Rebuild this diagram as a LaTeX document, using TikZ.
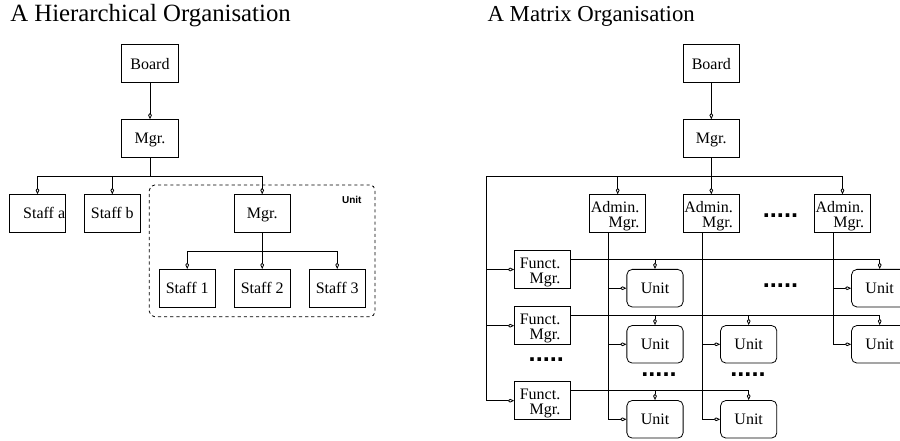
\documentclass[tikz,border=0pt]{standalone}
\usepackage{fontspec}
\setmainfont{Liberation Serif}
\setsansfont{Liberation Sans}
\usetikzlibrary{calc}
\usetikzlibrary{arrows.meta}
\usetikzlibrary{fit}

\tikzset{
  box/.style={draw, line width=.6pt, minimum width=42.2pt, minimum height=28.2pt, inner sep=0pt,
    text height=8pt, text depth=0pt, font=\fontsize{12}{10}\selectfont},
  twobox/.style={box, text height=12pt, text depth=13.2pt},
  unitbox/.style={box, rounded corners=4pt},
  link/.style={-{Kite[open, length=4.8pt, width=2.8pt, inset=1.7pt]}, line width=.6pt},
  heading/.style={anchor=base west, inner sep=0pt},
  etc/.style={anchor=base, inner sep=0pt, font=\sffamily\bfseries\fontsize{19}{19}\selectfont}
}
\newcommand{\mgrtext}[1]{\begin{tabular}[t]{@{}r@{\hspace{4pt}}}#1\\Mgr.\end{tabular}}

\begin{document}
\begin{tikzpicture}[x=.75pt, y=-.75pt]
\useasboundingbox (0,0) rectangle (900,441);
\clip (0,0) rectangle (900,441);

\node[heading, font=\fontsize{18.6}{21}\selectfont] (htitle) at (10,21.7) {A Hierarchical Organisation};
\node[heading, font=\fontsize{17.1}{20}\selectfont] (mtitle) at (487.3,21.7) {A Matrix Organisation};

\node[box] (lboard) at (150,63.7) {Board};
\node[box] (lmgr) at (150,138.5) {Mgr.};
\node[box] (sa) at (37.5,213.5) {\hspace*{10pt}Staff a};
\node[box] (sb) at (112.3,213.5) {Staff b};
\node[box] (umgr) at (262.2,213.5) {Mgr.};
\foreach \n/\x in {1/187.2, 2/262.2, 3/337.2}
  \node[box] (s\n) at (\x,288.2) {Staff \n};
\node[draw, line width=.6pt, dash pattern=on 2.4pt off 2.2pt, rounded corners=4pt,
  inner sep=7pt, fit=(umgr)(s1)(s3)] (unit) {};
\node[inner sep=0pt, font=\sffamily\bfseries\fontsize{7.5}{9}\selectfont] (unitlabel) at (351.8,200) {Unit};

\draw[link] (lboard) -- (lmgr);
\foreach \c in {sa, sb, umgr}
  \draw[link] (lmgr.south) -- ++(0,18.7) -| (\c.north);
\foreach \c in {s1, s2, s3}
  \draw[link] (umgr.south) -- ++(0,18.7) -| (\c.north);

\node[box] (rboard) at (711.3,63.7) {Board};
\node[box] (rmgr) at (711.3,138.5) {Mgr.};
\foreach \n/\x in {1/617.7, 2/711.3, 3/842.5}
  \node[twobox] (a\n) at (\x,213.5) {\mgrtext{Admin.}};
\foreach \n/\y in {1/269.5, 2/325.7, 3/400.7}
  \node[twobox] (f\n) at (542.7,\y) {\mgrtext{Funct.}};
\foreach \n/\x/\y in {11/655/288.2, 21/655/344.3, 31/655/419.3, 22/748.7/344.3, 32/748.7/419.3, 13/879.7/288.2, 23/879.7/344.3}
  \node[unitbox] (u\n) at (\x,\y) {Unit};
\coordinate (lbus) at (486.7,176);

\draw[link] (rboard) -- (rmgr);
\foreach \c in {a1, a2, a3}
  \draw[link] (rmgr.south) -- ++(0,18.7) -| (\c.north);
\foreach \c in {f1, f2, f3}
  \draw[link] (rmgr.south) -- ++(0,18.7) -| (\c.west -| lbus) -- (\c.west);

\foreach \u in {11, 13}
  \draw[link] ($(f1.north east)+(0,9.3)$) -| (u\u.north);
\foreach \u in {21, 22, 23}
  \draw[link] ($(f2.north east)+(0,9.3)$) -| (u\u.north);
\foreach \u in {31, 32}
  \draw[link] ($(f3.north east)+(0,9.3)$) -| (u\u.north);

\foreach \u in {11, 21, 31}
  \draw[link] ($(a1.south)+(-9.3,0)$) |- (u\u.west);
\foreach \u in {22, 32}
  \draw[link] ($(a2.south)+(-9.3,0)$) |- (u\u.west);
\foreach \u in {13, 23}
  \draw[link] ($(a3.south)+(-9.3,0)$) |- (u\u.west);

\node[etc] (dadmin) at (780.5,217.3) {.....};
\node[etc] (drow) at (780.5,287.8) {.....};
\node[etc] (dfunct) at (546.3,361.8) {.....};
\node[etc] (dcol1) at (659,376.1) {.....};
\node[etc] (dcol2) at (748,376.1) {.....};

\end{tikzpicture}
\end{document}
